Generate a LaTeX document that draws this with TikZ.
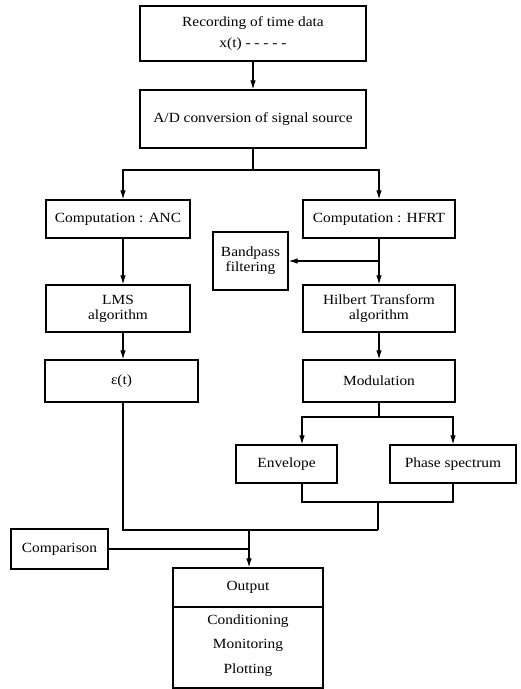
\documentclass[tikz,border=0pt]{standalone}
\usepackage{fontspec}
\setmainfont[FakeStretch=1.1]{Liberation Serif}
\usetikzlibrary{arrows.meta}
\begin{document}
\begin{tikzpicture}[x=1pt,y=-1pt,
  box/.style={draw,line width=1.2pt,inner sep=2pt,align=center,font=\fontsize{14}{15}\selectfont},
  txt/.style={inner sep=0pt,font=\fontsize{14}{15}\selectfont},
  conn/.style={line width=1.1pt},
  arr/.style={conn,-{Latex[length=9pt,width=5.5pt]}}]
\useasboundingbox (0,0) rectangle (521,689);
\node[box,minimum width=226pt,minimum height=55pt] (rec) at (253,33.5) {};
\node[txt] (rec1) at (253,23) {Recording of time data};
\node[txt] (rec2) at (253,44) {x(t) - - - - -};
\node[box,minimum width=226pt,minimum height=58pt] (ad) at (253,119) {A/D conversion of signal source};
\node[box,minimum width=144pt,minimum height=38pt] (anc) at (118,219) {Computation : ANC};
\node[box,minimum width=152pt,minimum height=38pt] (hfrt) at (379,219) {Computation : HFRT};
\node[box,minimum width=75pt,minimum height=58pt] (bp) at (250.5,261) {Bandpass\\filtering};
\node[box,minimum width=144pt,minimum height=47pt] (lms) at (118,308.5) {LMS\\algorithm};
\node[box,minimum width=152pt,minimum height=47pt] (hil) at (379,308.5) {Hilbert Transform\\algorithm};
\node[box,minimum width=153pt,minimum height=42pt] (et) at (121.5,381) {ε(t)};
\node[box,minimum width=152pt,minimum height=42pt] (mod) at (379,381) {Modulation};
\node[box,minimum width=101pt,minimum height=38pt] (env) at (286.5,464) {Envelope};
\node[box,minimum width=126pt,minimum height=38pt] (ph) at (453,464) {Phase spectrum};
\node[box,minimum width=97pt,minimum height=40pt] (cmp) at (59.5,549) {Comparison};
\node[box,minimum width=150pt,minimum height=120pt] (out) at (248,628) {};
\node[txt] (o1) at (248,587) {Output};
\node[txt] (o2) at (248,621) {Conditioning};
\node[txt] (o3) at (248,645) {Monitoring};
\node[txt] (o4) at (248,670) {Plotting};
\coordinate (dl) at (173,607);
\coordinate (dr) at (323,607);
\draw[line width=1.2pt] (dl) -- (dr);
% connectors
\draw[arr] (rec.south) -- (ad.north);
\coordinate (j1) at (253,170);
\draw[conn] (ad.south) -- (j1);
\draw[arr] (j1) -| ([xshift=5pt]anc.north);
\draw[arr] (j1) -| (hfrt.north);
\draw[arr] ([xshift=5pt]anc.south) -- ([xshift=5pt]lms.north);
\draw[arr] (hfrt.south) -- (hil.north);
\coordinate (jb) at (379,261);
\draw[arr] (jb) -- (bp.east);
\draw[arr] ([xshift=5pt]lms.south) -- ([xshift=1.5pt]et.north);
\draw[arr] (hil.south) -- (mod.north);
\coordinate (j2) at (379,417);
\draw[conn] (mod.south) -- (j2);
\draw[arr] (j2) -| ([xshift=15.5pt]env.north);
\draw[arr] (j2) -| (ph.north);
\coordinate (j3) at (378,502);
\coordinate (j4) at (378,530);
\coordinate (j5) at (249,530);
\coordinate (j6) at (249,549);
\draw[conn] ([xshift=15.5pt]env.south) |- (j3) -| (ph.south);
\draw[conn] (j3) -- (j4);
\draw[conn] ([xshift=1.5pt]et.south) |- (j4);
\draw[arr] (j5) -- (out.north -| j5);
\draw[conn] (cmp.east) -- (j6);
\end{tikzpicture}
\end{document}
